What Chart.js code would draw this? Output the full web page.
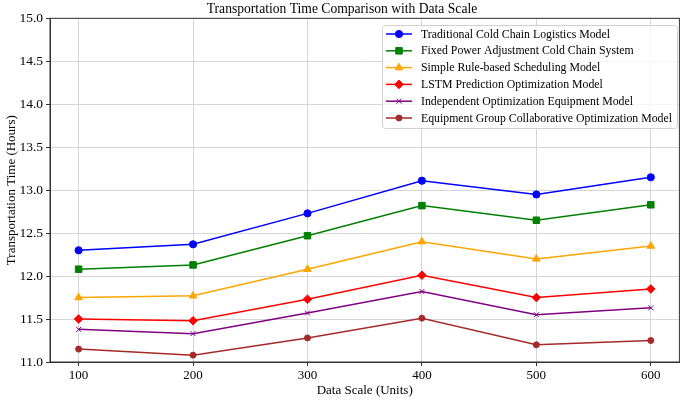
<!DOCTYPE html>
<html>
<head>
<meta charset="utf-8">
<script src="https://cdn.jsdelivr.net/npm/chart.js@4"></script>
<style>
  html, body { margin: 0; padding: 0; background: #fff; }
  #wrap { width: 685px; height: 400px; }
</style>
</head>
<body>
<div id="wrap"><canvas id="chart" width="685" height="400"></canvas></div>
<script>
// data
const scales = [100, 200, 300, 400, 500, 600];
const seriesNames = [
  'Traditional Cold Chain Logistics Model',
  'Fixed Power Adjustment Cold Chain System',
  'Simple Rule-based Scheduling Model',
  'LSTM Prediction Optimization Model',
  'Independent Optimization Equipment Model',
  'Equipment Group Collaborative Optimization Model'
];
const traditional = [12.30, 12.37, 12.73, 13.11, 12.95, 13.15];
const fixedPower  = [12.08, 12.13, 12.47, 12.82, 12.65, 12.83];
const simpleRule  = [11.75, 11.77, 12.08, 12.40, 12.20, 12.35];
const lstm        = [11.50, 11.48, 11.73, 12.01, 11.75, 11.85];
const independent = [11.38, 11.33, 11.57, 11.82, 11.55, 11.63];
const groupCollab = [11.15, 11.08, 11.28, 11.51, 11.20, 11.25];
const yTicks = [11.0, 11.5, 12.0, 12.5, 13.0, 13.5, 14.0, 14.5, 15.0];

const allSeries = [traditional, fixedPower, simpleRule, lstm, independent, groupCollab];
const colors = ['#0000ff', '#008000', '#ffa500', '#ff0000', '#800080', '#a52a2a'];
const markers = ['circle', 'rect', 'triangle', 'rectRot', 'crossRot', 'circle'];
const radii = [3.6, 4.6, 4.4, 4.3, 3.5, 3];

const FONT = "'Liberation Serif', 'DejaVu Serif', serif";

const datasets = allSeries.map((vals, i) => ({
  label: seriesNames[i],
  data: vals.map((v, j) => ({x: scales[j], y: v})),
  borderColor: colors[i],
  backgroundColor: colors[i],
  pointStyle: markers[i],
  pointRadius: radii[i],
  pointBorderWidth: 1,
  borderWidth: 1.5,
  tension: 0
}));

// full box around the plot (matplotlib spines)
const frame = {
  id: 'frame',
  afterDraw(chart){
    const {ctx, chartArea: a} = chart;
    ctx.save();
    ctx.strokeStyle = '#333';
    ctx.lineWidth = 1;
    ctx.strokeRect(a.left, a.top, a.right - a.left, a.bottom - a.top);
    ctx.restore();
  }
};

// legend drawn inside plot, upper right like matplotlib
const innerLegend = {
  id: 'innerLegend',
  afterDraw(chart){
    const ctx = chart.ctx;
    const x0 = 382, y0 = 25, w = 295, h = 103;
    ctx.save();
    ctx.fillStyle = 'rgba(255,255,255,0.8)';
    ctx.strokeStyle = '#d0d0d0';
    ctx.lineWidth = 1;
    ctx.beginPath();
    ctx.roundRect(x0 + 0.5, y0 + 0.5, w, h, 3);
    ctx.fill();
    ctx.stroke();
    ctx.font = '11.8px ' + FONT;
    ctx.textBaseline = 'middle';
    chart.data.datasets.forEach((ds, i) => {
      const y = 34 + i * 16.8;
      ctx.strokeStyle = ds.borderColor;
      ctx.lineWidth = 1.5;
      ctx.beginPath();
      ctx.moveTo(386, y);
      ctx.lineTo(412, y);
      ctx.stroke();
      ctx.lineWidth = 1;
      ctx.fillStyle = ds.borderColor;
      Chart.helpers.drawPoint(ctx, {
        pointStyle: ds.pointStyle, radius: ds.pointRadius, rotation: 0, borderWidth: 1
      }, 399, y);
      ctx.fillStyle = '#000';
      ctx.fillText(ds.label, 421, y + 0.5);
    });
    ctx.restore();
  }
};

const chart = new Chart(document.getElementById('chart'), {
  type: 'line',
  data: { datasets },
  plugins: [frame, innerLegend],
  options: {
    responsive: false,
    animation: false,
    layout: { padding: { top: 0, right: 1, bottom: 2, left: 0 } },
    plugins: {
      legend: { display: false },
      tooltip: { enabled: false },
      title: {
        display: true,
        text: 'Transportation Time Comparison with Data Scale',
        color: '#000',
        font: { family: FONT, size: 13.6, weight: 'normal' },
        padding: { top: 1, bottom: 1 }
      }
    },
    scales: {
      x: {
        type: 'linear',
        min: 75,
        max: 625,
        afterBuildTicks(axis){ axis.ticks = scales.map(v => ({value: v})); },
        afterFit(axis){ axis.height = 36; },
        ticks: { color: '#000', font: { family: FONT, size: 13 }, padding: 2 },
        grid: { color: '#d6d6d6', tickColor: '#333', tickLength: 4 },
        border: { color: '#333' },
        title: {
          display: true, text: 'Data Scale (Units)', color: '#000',
          font: { family: FONT, size: 13 }, padding: { top: 0, bottom: 0 }
        }
      },
      y: {
        min: 11,
        max: 15,
        afterBuildTicks(axis){ axis.ticks = yTicks.map(v => ({value: v})); },
        afterFit(axis){ axis.width = 50; },
        ticks: {
          color: '#000', font: { family: FONT, size: 13.5 }, padding: 3,
          callback: v => v.toFixed(1)
        },
        grid: { color: '#d6d6d6', tickColor: '#333', tickLength: 4 },
        border: { color: '#333' },
        title: {
          display: true, text: 'Transportation Time (Hours)', color: '#000',
          font: { family: FONT, size: 13 }, padding: { top: 4, bottom: 2 }
        }
      }
    }
  }
});
</script>
</body>
</html>
